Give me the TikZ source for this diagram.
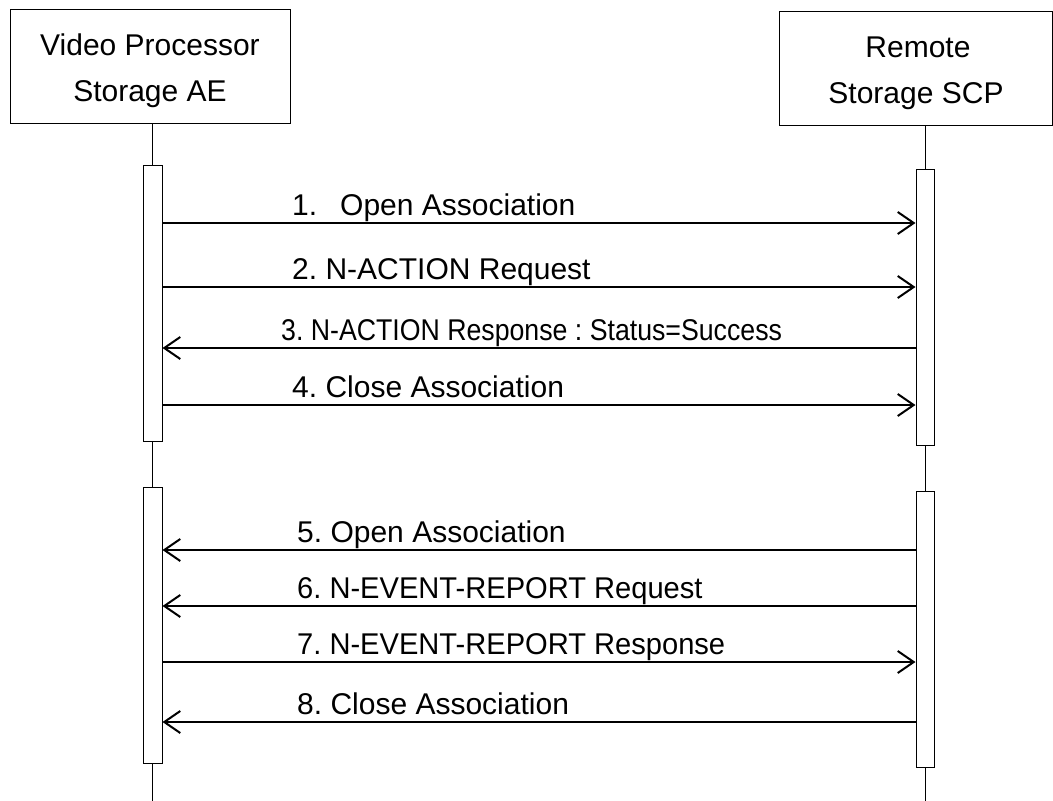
\documentclass[tikz,border=0pt]{standalone}
\usepackage{fontspec}
\setmainfont{Liberation Sans}
\usetikzlibrary{arrows.meta,calc}
\frenchspacing
\begin{document}
\begin{tikzpicture}[x=1pt,y=-1pt,
  box/.style={draw, line width=1pt, fill=white, inner sep=0pt},
  hdr/.style={anchor=base, inner sep=0pt, font=\fontsize{30}{34}\selectfont},
  bar/.style={draw, line width=1pt, fill=white, minimum width=19pt, inner sep=0pt},
  life/.style={line width=1pt},
  msg/.style={line width=2pt, -{Straight Barb[length=16pt,width=22pt]}},
  lbl/.style={anchor=base west, inner sep=0pt, font=\fontsize{30}{34}\selectfont}]
\useasboundingbox (0,0) rectangle (1053,801);
% actor boxes
\node[box, minimum width=280pt, minimum height=114pt] (A) at (150,66) {};
\node[box, minimum width=273pt, minimum height=114pt] (B) at (915.5,68) {};
\node[hdr] (A1) at (150,55) {Video Processor};
\node[hdr] (A2) at (150,101) {Storage AE};
\node[hdr] (B1) at (918,57) {Remote};
\node[hdr] (B2) at (916,103) {Storage SCP};
% lifeline end points
\coordinate (Aend) at (152.5,801);
\coordinate (Bend) at (925,801);
\draw[life] (Aend |- A.south) -- (Aend);
\draw[life] (Bend |- B.south) -- (Bend);
% activation bars
\node[bar, minimum height=276pt] (L1) at (152.5,303) {};
\node[bar, minimum height=276pt] (L2) at (152.5,625) {};
\node[bar, minimum height=276pt, minimum width=18pt] (R1) at (925,307) {};
\node[bar, minimum height=276pt, minimum width=18pt] (R2) at (925,629) {};
% messages
\draw[msg] (L1.east |- 0,223) coordinate (m1) -- (R1.west |- 0,223);
\draw[msg] (L1.east |- 0,287) coordinate (m2) -- (R1.west |- 0,287);
\draw[msg] (R1.west |- 0,348) -- (L1.east |- 0,348) coordinate (m3);
\draw[msg] (L1.east |- 0,405) coordinate (m4) -- (R1.west |- 0,405);
\draw[msg] (R2.west |- 0,550) -- (L2.east |- 0,550) coordinate (m5);
\draw[msg] (R2.west |- 0,606) -- (L2.east |- 0,606) coordinate (m6);
\draw[msg] (L2.east |- 0,662) coordinate (m7) -- (R2.west |- 0,662);
\draw[msg] (R2.west |- 0,722) -- (L2.east |- 0,722) coordinate (m8);
% labels
\node[lbl] (t1) at (292,215) {1.\hspace{23pt}Open Association};
\node[lbl] (t2) at (292,279) {2. N-ACTION Request};
\node[lbl] (t3) at (281,340) {\scalebox{0.89}[1]{3. N-ACTION Response : Status=Success}};
\node[lbl] (t4) at (292,397) {4. Close Association};
\node[lbl] (t5) at (297,542) {5. Open Association};
\node[lbl] (t6) at (297,598) {\scalebox{0.97}[1]{6. N-EVENT-REPORT Request}};
\node[lbl] (t7) at (297,654) {\scalebox{0.97}[1]{7. N-EVENT-REPORT Response}};
\node[lbl] (t8) at (297,714) {8. Close Association};
\end{tikzpicture}
\end{document}
